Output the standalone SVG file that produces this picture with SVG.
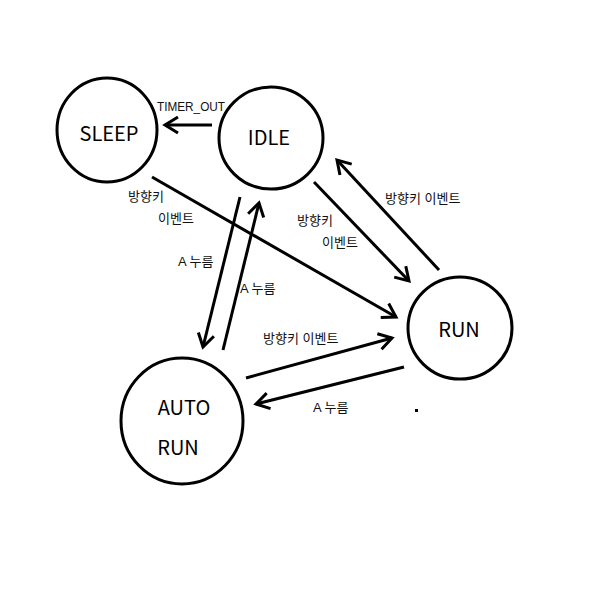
<svg xmlns="http://www.w3.org/2000/svg" width="600" height="600" viewBox="0 0 600 600">
<style>
.node{fill:#fff;stroke:#000;stroke-width:3}
.nt{font-family:"Noto Sans CJK KR","Noto Sans",sans-serif;font-size:20px;fill:#000;text-anchor:middle}
.lbl{font-family:"Liberation Sans","Noto Sans CJK KR",sans-serif;font-size:13px;fill:#111}
.edge{fill:none;stroke:#000;stroke-width:3;marker-end:url(#ah)}
</style>
<defs>
<marker id="ah" markerUnits="userSpaceOnUse" markerWidth="20" markerHeight="20" viewBox="-16 -10 20 20" refX="0" refY="0" orient="auto">
<polyline points="-13,-8 0,0 -13,8" fill="none" stroke="#000" stroke-width="3"/>
</marker>
</defs>
<rect width="600" height="600" fill="#fff"/>
<g id="edges">
<line class="edge" x1="212" y1="125" x2="165" y2="125"/>
<line class="edge" x1="152" y1="177" x2="396" y2="317"/>
<line class="edge" x1="314" y1="182" x2="409" y2="281"/>
<line class="edge" x1="439" y1="270" x2="337" y2="160"/>
<line class="edge" x1="240" y1="197" x2="203" y2="347"/>
<line class="edge" x1="223" y1="350" x2="259" y2="203"/>
<line class="edge" x1="246" y1="378" x2="392" y2="338"/>
<line class="edge" x1="404" y1="367" x2="256" y2="404"/>
</g>
<g id="sleep">
<ellipse class="node" cx="107" cy="130" rx="50" ry="52"/>
<text class="nt" x="109" y="141">SLEEP</text>
</g>
<g id="idle">
<ellipse class="node" cx="271" cy="138" rx="52" ry="51"/>
<text class="nt" x="269" y="145">IDLE</text>
</g>
<g id="run">
<ellipse class="node" cx="460" cy="328" rx="52" ry="51"/>
<text class="nt" x="459" y="337">RUN</text>
</g>
<g id="autorun">
<ellipse class="node" cx="182" cy="421" rx="61" ry="63"/>
<text class="nt" x="184" y="415">AUTO</text>
<text class="nt" x="178" y="455">RUN</text>
</g>
<g id="labels">
<text class="lbl" x="157" y="111" font-size="12" textLength="68" lengthAdjust="spacingAndGlyphs">TIMER_OUT</text>
<text class="lbl" x="128" y="201">방향키</text>
<text class="lbl" x="158" y="223">이벤트</text>
<text class="lbl" x="297" y="225">방향키</text>
<text class="lbl" x="322" y="247">이벤트</text>
<text class="lbl" x="385" y="203">방향키 이벤트</text>
<text class="lbl" x="178" y="266">A 누름</text>
<text class="lbl" x="240" y="293">A 누름</text>
<text class="lbl" x="263" y="343">방향키 이벤트</text>
<text class="lbl" x="313" y="412">A 누름</text>
</g>
<rect x="415" y="409" width="3" height="3" fill="#000"/>
</svg>
